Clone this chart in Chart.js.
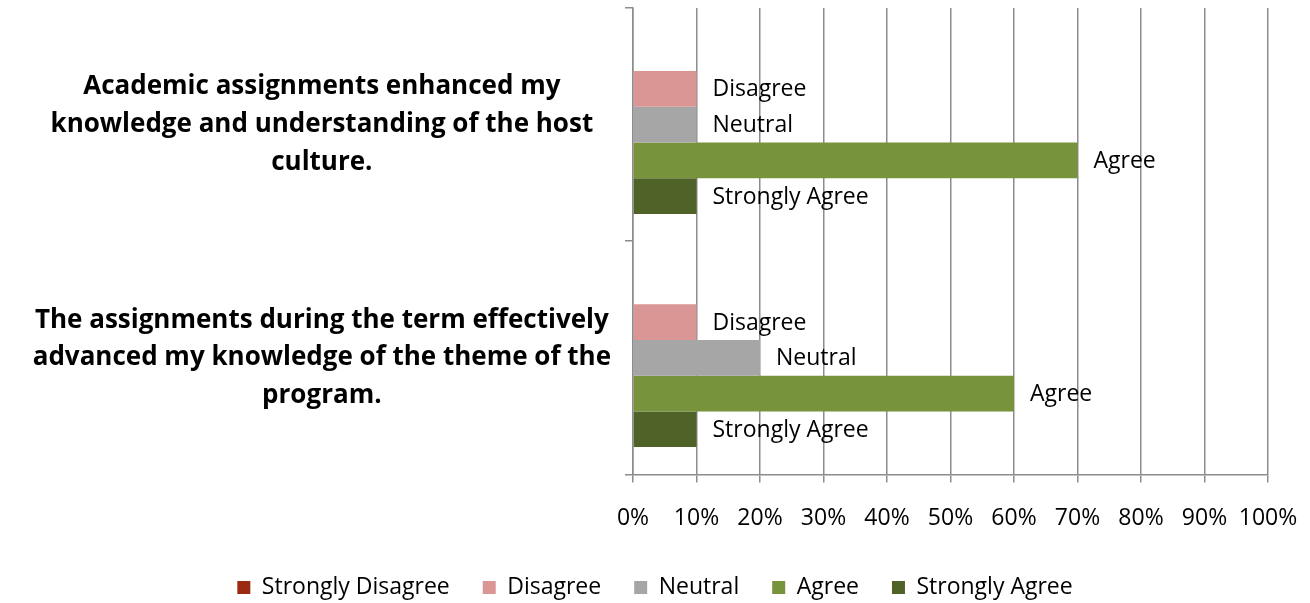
<!DOCTYPE html>
<html>
<head>
<meta charset="utf-8">
<script src="https://cdn.jsdelivr.net/npm/chart.js@4.4.1/dist/chart.umd.min.js"></script>
<style>
  html, body { margin: 0; padding: 0; background: #fff; }
  #wrap { width: 1310px; height: 603px; position: relative; }
</style>
</head>
<body>
<div id="wrap"><canvas id="chart"></canvas></div>
<script>
// categories, top to bottom
const categories = [
    ['Academic assignments enhanced my', 'knowledge and understanding of the host', 'culture.'],
    ['The assignments during the term effectively', 'advanced my knowledge of the theme of the', 'program.']
];
const seriesNames = ['Strongly Disagree', 'Disagree', 'Neutral', 'Agree', 'Strongly Agree'];
const stronglyDisagree = [0, 0];
const disagree = [10, 10];
const neutral = [10, 20];
const agree = [70, 60];
const stronglyAgree = [10, 10];
const xTickValues = [0, 10, 20, 30, 40, 50, 60, 70, 80, 90, 100];
const seriesColors = ['#9A2A12', '#D99694', '#A6A6A6', '#77933C', '#4F6228'];

const FONT = '"Open Sans", "Liberation Sans", sans-serif';
const GRID = '#8c8c8c';

// series name written just past the end of each bar
const barNameLabels = {
    id: 'barNameLabels',
    afterDatasetsDraw(chart) {
        const ctx = chart.ctx;
        ctx.save();
        ctx.font = '23px ' + FONT;
        ctx.fillStyle = '#000';
        ctx.textAlign = 'left';
        ctx.textBaseline = 'middle';
        chart.data.datasets.forEach((ds, i) => {
            const meta = chart.getDatasetMeta(i);
            meta.data.forEach((bar, j) => {
                if (!ds.data[j]) return;
                ctx.fillText(ds.label, bar.x + 16, bar.y + 1);
            });
        });
        ctx.restore();
    }
};

const seriesData = [stronglyDisagree, disagree, neutral, agree, stronglyAgree];

new Chart(document.getElementById('chart').getContext('2d'), {
    type: 'bar',
    data: {
        labels: categories,
        datasets: seriesNames.map((name, i) => ({
            label: name,
            data: seriesData[i],
            backgroundColor: seriesColors[i],
            borderWidth: 0,
            barPercentage: 1,
            categoryPercentage: 0.766
        }))
    },
    options: {
        indexAxis: 'y',
        responsive: true,
        maintainAspectRatio: false,
        animation: false,
        layout: { padding: { left: 0, right: 0, top: 8, bottom: -6 } },
        plugins: {
            tooltip: { enabled: false },
            legend: {
                position: 'bottom',
                labels: {
                    color: '#000',
                    font: { family: FONT, size: 23 },
                    boxWidth: 13,
                    boxHeight: 13,
                    padding: 33
                }
            }
        },
        scales: {
            x: {
                min: 0,
                max: 100,
                afterBuildTicks: (scale) => {
                    scale.ticks = xTickValues.map(v => ({ value: v }));
                },
                afterFit: (scale) => {
                    scale.height -= 11;
                    scale.paddingLeft = 0;
                    scale.paddingRight = 42;
                },
                ticks: {
                    color: '#000',
                    font: { family: FONT, size: 23 },
                    padding: 22,
                    maxRotation: 0,
                    callback: (v) => v + '%'
                },
                grid: { color: GRID, lineWidth: 1.5, tickLength: 8, tickColor: GRID },
                border: { color: GRID, width: 1.5 }
            },
            y: {
                afterFit: (scale) => {
                    scale.width = 633;
                    scale.paddingTop = 0;
                    scale.paddingBottom = 0;
                },
                ticks: {
                    color: '#000',
                    crossAlign: 'center',
                    padding: 14,
                    font: { family: FONT, size: 26, weight: 'bold', lineHeight: 1.45 }
                },
                grid: { drawOnChartArea: false, tickLength: 8, color: GRID, lineWidth: 1.5 },
                border: { color: GRID, width: 1.5 }
            }
        }
    },
    plugins: [barNameLabels]
});
</script>
</body>
</html>
